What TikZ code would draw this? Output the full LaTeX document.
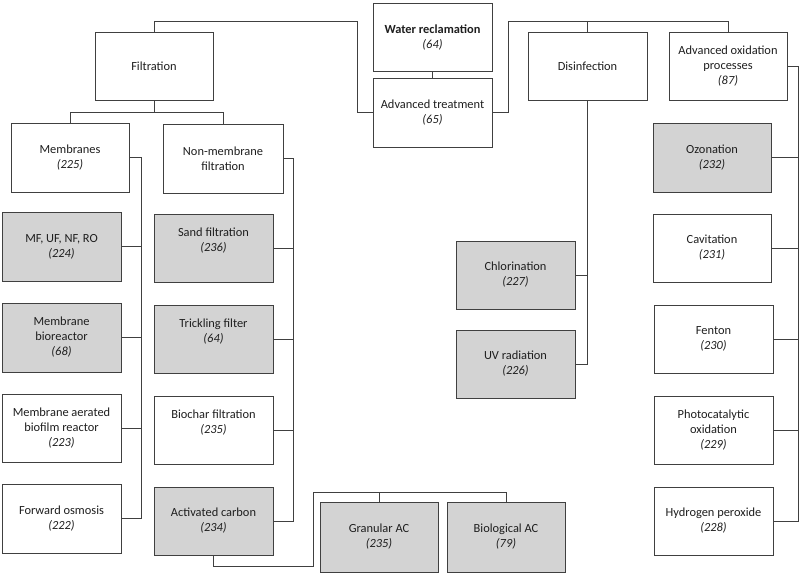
\documentclass[tikz,border=0pt]{standalone}
\usepackage{fontspec}
\setmainfont{Carlito}
\definecolor{ln}{RGB}{64,64,64}
\definecolor{fillg}{RGB}{211,211,211}
\definecolor{txt}{RGB}{30,30,30}
\tikzset{
  box/.style={draw=ln, line width=0.9pt, minimum width=119pt, minimum height=68pt, inner sep=0pt, align=center, text=txt, font=\fontsize{12.4}{15}\selectfont},
  gbox/.style={box, fill=fillg},
  lbl/.style={align=center, text=txt, inner sep=0pt, font=\fontsize{12.4}{15}\selectfont},
  conn/.style={draw=ln, line width=0.9pt}
}
\begin{document}
\begin{tikzpicture}[x=1pt,y=-1pt]
\useasboundingbox (0,0) rectangle (801,574);
% top
\node[box] (wr) at (432.5,37) {\textbf{Water reclamation}\\\textit{(64)}};
\node[box, minimum height=69pt] (at) at (432.5,112.5) {Advanced treatment\\\textit{(65)}};
\node[box, minimum width=118pt] (filt) at (154,66) {Filtration};
\node[box] (dis) at (587.5,66) {Disinfection};
\node[box, minimum width=118pt] (aop) at (728,66) {Advanced oxidation\\processes\\\textit{(87)}};
% filtration children
\node[box, minimum width=118pt, minimum height=69pt] (memb) at (70,157.5) {Membranes\\\textit{(225)}};
\node[box, minimum width=120pt, minimum height=69pt] (nonm) at (223,158.5) {Non-membrane\\filtration};
\node[gbox, minimum height=69pt] (mf) at (61.5,246.5) {MF, UF, NF, RO\\\textit{(224)}};
\node[gbox, minimum height=69pt] (mbr) at (61.5,337.5) {Membrane\\bioreactor\\\textit{(68)}};
\node[box] (mabr) at (61.5,428) {Membrane aerated\\biofilm reactor\\\textit{(223)}};
\node[box, minimum height=69pt] (fo) at (61.5,518.5) {Forward osmosis\\\textit{(222)}};
\node[gbox] (sand) at (213.5,248) {};
\node[lbl] (sandt) at ([yshift=7.5pt]sand.center) {Sand filtration\\\textit{(236)}};
\node[gbox] (trick) at (213.5,339) {};
\node[lbl] (trickt) at ([yshift=7.5pt]trick.center) {Trickling filter\\\textit{(64)}};
\node[box] (bio) at (213.5,430) {};
\node[lbl] (biot) at ([yshift=7.5pt]bio.center) {Biochar filtration\\\textit{(235)}};
\node[gbox] (ac) at (213.5,521) {Activated carbon\\\textit{(234)}};
\node[gbox, minimum width=118pt, minimum height=70pt] (gac) at (379,537) {Granular AC\\\textit{(235)}};
\node[gbox, minimum width=118pt, minimum height=70pt] (bac) at (506,537) {Biological AC\\\textit{(79)}};
% disinfection children
\node[gbox] (chl) at (515.5,275) {Chlorination\\\textit{(227)}};
\node[gbox] (uv) at (515.5,364) {UV radiation\\\textit{(226)}};
% AOP children
\node[gbox, minimum width=118pt, minimum height=69pt] (oz) at (712,157.5) {Ozonation\\\textit{(232)}};
\node[box, minimum width=118pt] (cav) at (712,248) {Cavitation\\\textit{(231)}};
\node[box] (fen) at (713.5,339) {Fenton\\\textit{(230)}};
\node[box] (pho) at (713.5,430) {Photocatalytic\\oxidation\\\textit{(229)}};
\node[box] (hp) at (713.5,521) {Hydrogen peroxide\\\textit{(228)}};
% connectors
\coordinate (jl) at (357,21);
\coordinate (jr) at (508,21);
\draw[conn] (wr.south) -- (at.north);
\draw[conn] (at.west) -| (jl) -| (filt.north);
\draw[conn] (at.east) -| (jr) -| (aop.north);
\draw[conn] (jr) -| (dis.north);
\draw[conn] (filt.south) -- ++(0,12) -| (memb.north);
\draw[conn] (filt.south) -- ++(0,12) -| (nonm.north);
\foreach \c in {mf,mbr,mabr,fo}{\draw[conn] (memb.east) -- ++(12,0) |- (\c.east);}
\foreach \c in {sand,trick,bio,ac}{\draw[conn] (nonm.east) -- ++(10,0) |- (\c.east);}
\foreach \c in {oz,cav,fen,pho,hp}{\draw[conn] (aop.east) -- ++(11,0) |- (\c.east);}
\draw[conn] (dis.south) |- (chl.east);
\draw[conn] (dis.south) |- (uv.east);
\coordinate (jb) at (313,566);
\coordinate (jg) at (313,492);
\draw[conn] (ac.south) |- (jb) -- (jg) -| (gac.north);
\draw[conn] (jg) -| (bac.north);
\end{tikzpicture}
\end{document}
